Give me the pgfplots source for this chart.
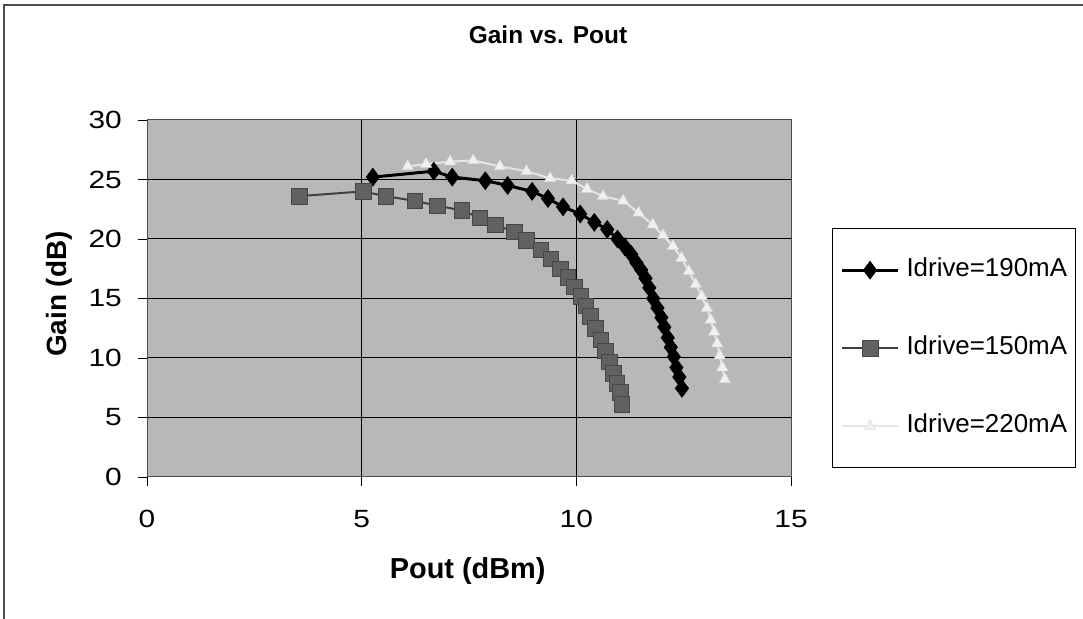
\documentclass[border=0pt]{standalone}
\usepackage{fontspec}
\setmainfont{Liberation Sans}
\newfontfamily\tickfont[FakeStretch=1.2]{Liberation Sans}
\usepackage{pgfplots}
\pgfplotsset{compat=1.18}
\begin{document}
\begin{tikzpicture}
\useasboundingbox (0,0) rectangle (1083bp,619bp);
\draw[black!70, line width=1.2bp] (4bp,0bp) -- (4bp,614bp) -- (1083bp,614bp);
\begin{axis}[
  at={(147bp,142bp)}, anchor=south west,
  scale only axis, width=644bp, height=357bp,
  xmin=0, xmax=15, ymin=0, ymax=30,
  xtick={0,5,10,15}, ytick={0,5,10,15,20,25,30},
  tick pos=left, tick align=outside, major tick length=9bp,
  tick style={black, line width=0.8bp},
  axis line style={black!70, line width=1bp},
  axis background/.style={fill=black!28},
  xmajorgrids, ymajorgrids,
  major grid style={black, line width=1bp},
  /pgf/number format/assume math mode=true,
  ticklabel style={font=\tickfont\fontsize{25}{28}\selectfont, inner sep=0pt},
  xticklabel style={anchor=north, yshift=-24bp},
  yticklabel style={anchor=east, xshift=-16bp},
  title={Gain vs. Pout},
  title style={font=\bfseries\fontsize{24.5}{28}\selectfont, at={(axis description cs:0.6227,1.2213)}, anchor=center},
  xlabel={Pout (dBm)},
  xlabel style={font=\bfseries\fontsize{29}{32}\selectfont, at={(axis description cs:0.498,-0.263)}, anchor=center},
  ylabel={Gain (dB)},
  ylabel style={font=\bfseries\fontsize{28}{31}\selectfont, at={(axis description cs:-0.1366,0.5126)}, anchor=center},
  legend style={at={(axis description cs:1.0637,0.697)}, anchor=north west,
    draw=black, line width=1bp, fill=white, inner xsep=8bp, inner ysep=29bp,
    row sep=53bp, column sep=7bp,
    font=\fontsize{26}{30}\selectfont,
    nodes={inner sep=0pt, text height=19bp, text depth=6bp}},
  legend cell align=left,
  legend image code/.code={\draw[mark repeat=2,mark phase=2,#1] plot coordinates {(0bp,0bp) (28bp,0bp) (56bp,0bp)};},
]
\addplot[black, line width=3bp, mark=diamond*, mark size=9bp, mark options={solid, fill=black, line width=0.5bp}] coordinates {
(5.26,25.2) (6.68,25.7) (7.11,25.2) (7.88,24.9) (8.40,24.5) (8.97,24.0) (9.34,23.4) (9.69,22.7) (10.09,22.1) (10.42,21.4) (10.72,20.8) (10.96,20.0) (11.13,19.35) (11.28,18.7) (11.40,18.0) (11.51,17.4) (11.61,16.7) (11.70,15.9) (11.79,15.0) (11.89,14.2) (11.98,13.4) (12.05,12.6) (12.13,11.7) (12.20,10.9) (12.27,10.1) (12.33,9.2) (12.40,8.4) (12.46,7.45)
};
\addlegendentry{Idrive=190mA}
\addplot[black!75, line width=2bp, mark=square*, mark size=7.8bp, mark options={solid, fill=black!62, draw=black!72, line width=0.5bp}] coordinates {
(3.54,23.6) (5.03,24.0) (5.56,23.6) (6.24,23.2) (6.76,22.8) (7.33,22.4) (7.75,21.8) (8.11,21.2) (8.55,20.6) (8.84,19.9) (9.17,19.1) (9.40,18.35) (9.63,17.5) (9.80,16.8) (9.95,16.0) (10.10,15.2) (10.22,14.4) (10.33,13.5) (10.44,12.5) (10.57,11.55) (10.68,10.6) (10.77,9.7) (10.86,8.7) (10.94,7.9) (11.02,7.1) (11.06,6.1)
};
\addlegendentry{Idrive=150mA}
\addplot[black!10, line width=2bp, mark=triangle*, mark size=6.5bp, mark options={solid, fill=black!6, draw=black!14, line width=0.5bp}] coordinates {
(6.07,26.1) (6.5,26.3) (7.06,26.5) (7.6,26.6) (8.22,26.1) (8.84,25.7) (9.39,25.1) (9.89,24.9) (10.25,24.2) (10.62,23.6) (11.09,23.2) (11.45,22.2) (11.78,21.2) (12.02,20.3) (12.25,19.4) (12.45,18.4) (12.62,17.3) (12.78,16.2) (12.92,15.2) (13.04,14.2) (13.13,13.2) (13.21,12.2) (13.28,11.2) (13.34,10.2) (13.40,9.2) (13.46,8.2)
};
\addlegendentry{Idrive=220mA}
\end{axis}
\end{tikzpicture}
\end{document}
